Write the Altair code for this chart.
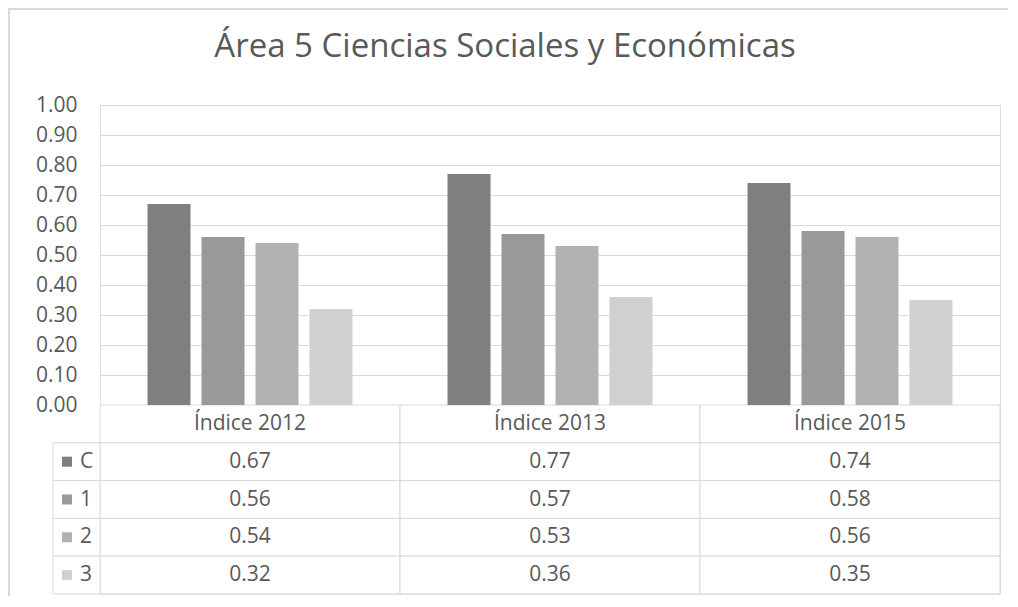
import altair as alt
import pandas as pd

TITLE = "Área 5 Ciencias Sociales y Económicas"
categories = ["Índice 2012", "Índice 2013", "Índice 2015"]
series = ["C", "1", "2", "3"]
values_C = [0.67, 0.77, 0.74]
values_1 = [0.56, 0.57, 0.58]
values_2 = [0.54, 0.53, 0.56]
values_3 = [0.32, 0.36, 0.35]
colors = ["#7f7f7f", "#999999", "#b2b2b2", "#d0d0d0"]
y_ticks = [0.0, 0.1, 0.2, 0.3, 0.4, 0.5, 0.6, 0.7, 0.8, 0.9, 1.0]

TEXT_COLOR = "#595959"
LINE_COLOR = "#d9d9d9"
FONT = "Open Sans"
FS = 21
W, H = 900, 489
BAR_H = 300
ROWS = ["header"] + series

rows = []
for s, vals in zip(series, [values_C, values_1, values_2, values_3]):
    for c, v in zip(categories, vals):
        rows.append({"category": c, "series": s, "value": v, "row": s, "label": f"{v:.2f}"})
bars_df = pd.DataFrame(rows)

text_df = pd.concat([
    pd.DataFrame({"category": categories, "row": ["header"] * len(categories), "label": categories}),
    bars_df[["category", "row", "label"]],
], ignore_index=True)

cells_df = pd.DataFrame([{"category": c, "row": r} for c in categories for r in ROWS])
legend_df = pd.DataFrame({"series": series, "row": series})
title_df = pd.DataFrame({"title": [TITLE]})
frame_df = pd.DataFrame({"k": [0]})

row_scale = alt.Scale(type="band", domain=ROWS, range=[BAR_H, H], paddingInner=0, paddingOuter=0)
color_scale = alt.Scale(domain=series, range=colors)
x_enc = alt.X("category:N", sort=categories, axis=None,
              scale=alt.Scale(domain=categories, paddingInner=0, paddingOuter=0))

frame = alt.Chart(frame_df).mark_rect(fillOpacity=0, stroke=LINE_COLOR, strokeWidth=2).encode(
    x=alt.value(-91), x2=alt.value(W + 40), y=alt.value(-96), y2=alt.value(H + 40)
)

cells = alt.Chart(cells_df).mark_rect(fill="white", stroke=LINE_COLOR, strokeWidth=1).encode(
    x=x_enc,
    y=alt.Y("row:N", scale=row_scale, axis=None),
)

bars = alt.Chart(bars_df).mark_bar().encode(
    x=x_enc,
    xOffset=alt.XOffset("series:N", sort=series,
                        scale=alt.Scale(domain=series, paddingInner=0.2037, paddingOuter=0.88)),
    y=alt.Y("value:Q",
            scale=alt.Scale(domain=[0, 1], range=[BAR_H, 0], zero=True, nice=False),
            axis=alt.Axis(values=y_ticks, format=".2f", title=None, ticks=False, domain=False,
                          grid=True, gridColor=LINE_COLOR, gridWidth=1,
                          labelFont=FONT, labelFontSize=FS, labelColor=TEXT_COLOR,
                          labelPadding=23)),
    color=alt.Color("series:N", scale=color_scale, legend=None),
)

texts = alt.Chart(text_df).mark_text(font=FONT, fontSize=FS, color=TEXT_COLOR, baseline="middle").encode(
    x=alt.X("category:N", sort=categories, axis=None),
    y=alt.Y("row:N", scale=row_scale, axis=None),
    text="label:N",
)

legend_cells = alt.Chart(legend_df).mark_rect(fill="white", stroke=LINE_COLOR, strokeWidth=1).encode(
    x=alt.value(-47), x2=alt.value(0),
    y=alt.Y("row:N", scale=row_scale, axis=None),
)

legend_squares = alt.Chart(legend_df).mark_square(size=100, opacity=1).encode(
    x=alt.value(-33),
    y=alt.Y("row:N", scale=row_scale, axis=None),
    color=alt.Color("series:N", scale=color_scale, legend=None),
)

legend_labels = alt.Chart(legend_df).mark_text(font=FONT, fontSize=FS, color=TEXT_COLOR,
                                               align="left", baseline="middle").encode(
    x=alt.value(-20),
    y=alt.Y("row:N", scale=row_scale, axis=None),
    text="series:N",
)

title = alt.Chart(title_df).mark_text(font=FONT, fontSize=33, color=TEXT_COLOR,
                                      align="center", baseline="alphabetic").encode(
    x=alt.value(405), y=alt.value(-48), text="title:N"
)

chart = alt.layer(
    frame, cells, bars, texts, legend_cells, legend_squares, legend_labels, title
).resolve_scale(y="independent").properties(
    width=W, height=H,
    autosize=alt.AutoSizeParams(type="none"),
    padding={"left": 92, "top": 97, "right": 8, "bottom": 2},
).configure_view(stroke=None).configure(background="white")

chart.save("out.html", embed_options={"renderer": "svg", "actions": False})
